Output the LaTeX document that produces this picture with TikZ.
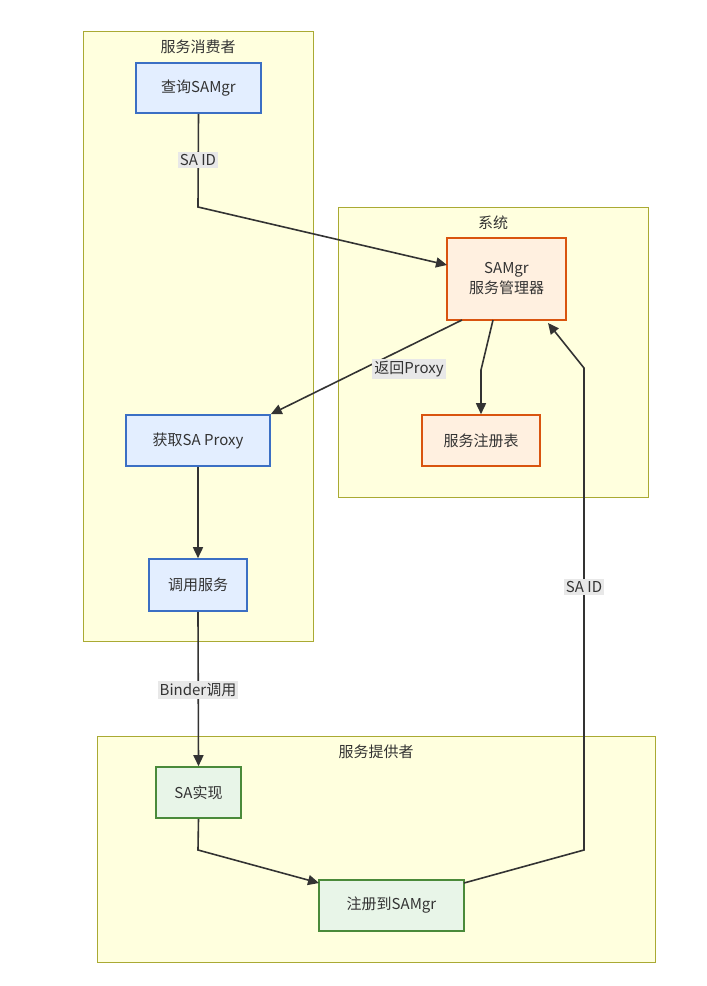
\documentclass[tikz,border=0pt]{standalone}
\usepackage{fontspec}
\setmainfont{Noto Sans CJK SC}
\usetikzlibrary{arrows.meta}
\definecolor{clf}{HTML}{FFFFDE}\definecolor{cld}{HTML}{AAAA33}
\definecolor{bf}{HTML}{E3EEFF}\definecolor{bd}{HTML}{3B6FC4}
\definecolor{of}{HTML}{FFF0E0}\definecolor{od}{HTML}{D9540F}
\definecolor{gf}{HTML}{E8F5E8}\definecolor{gd}{HTML}{4A8A3A}
\definecolor{ln}{HTML}{333333}\definecolor{lb}{HTML}{E8E8E8}
\begin{document}
\begin{tikzpicture}[x=1pt,y=-1pt,font=\fontsize{15}{20}\selectfont,
 cl/.style={draw=cld,fill=clf,line width=0.8pt},
 bx/.style={draw=#1d,fill=#1f,line width=1.6pt,inner sep=0pt,text=ln},
 e/.style={draw=ln,line width=1.6pt,-{Triangle[length=11pt,width=10pt]}},
 lab/.style={fill=lb,inner sep=2pt,text=ln}]
\useasboundingbox (0,0) rectangle (707,986);
\draw[cl] (83,31) rectangle (313,641);
\draw[cl] (338,207) rectangle (648,497);
\draw[cl] (97,736) rectangle (655,962);
\node[text=ln] (t1) at (198,47) {服务消费者};
\node[text=ln] (t2) at (493,223) {系统};
\node[text=ln] (t3) at (376,752) {服务提供者};
\node[bx=b,minimum width=125pt,minimum height=50pt] (q) at (198.5,88) {查询SAMgr};
\node[bx=o,minimum width=119pt,minimum height=82pt,align=center] (s) at (506.5,279) {SAMgr\\服务管理器};
\node[bx=o,minimum width=118pt,minimum height=51pt] (r) at (481,440.5) {服务注册表};
\node[bx=b,minimum width=144pt,minimum height=51pt] (g) at (198,440.5) {获取SA Proxy};
\node[bx=b,minimum width=98pt,minimum height=52pt] (c) at (198,585) {调用服务};
\node[bx=g,minimum width=85pt,minimum height=51pt] (a) at (198.5,792.5) {SA实现};
\node[bx=g,minimum width=145pt,minimum height=51pt] (z) at (391.5,905.5) {注册到SAMgr};
\coordinate (q1) at (198,207);
\coordinate (r1) at (481,370);
\coordinate (a1) at (198,850);
\coordinate (z1) at (584,850);
\coordinate (z2) at (584,368);
\draw[e] (q.south) -- (q1) -- (447,265);
\draw[e] (462,320) -- (g.north east);
\draw[e] (493,320) -- (r1) -- (r.north);
\draw[e] (g.south) -- (c.north);
\draw[e] (c.south) -- (a.north);
\draw[e] (a.south) -- (a1) -- (319,883);
\draw[e] (464,883) -- (z1) -- (z2) -- (548,323);
\node[lab] (l1) at (198,160) {SA ID};
\node[lab] (l2) at (409,369) {返回Proxy};
\node[lab] (l3) at (198,690) {Binder调用};
\node[lab] (l4) at (584,587) {SA ID};
\end{tikzpicture}
\end{document}
